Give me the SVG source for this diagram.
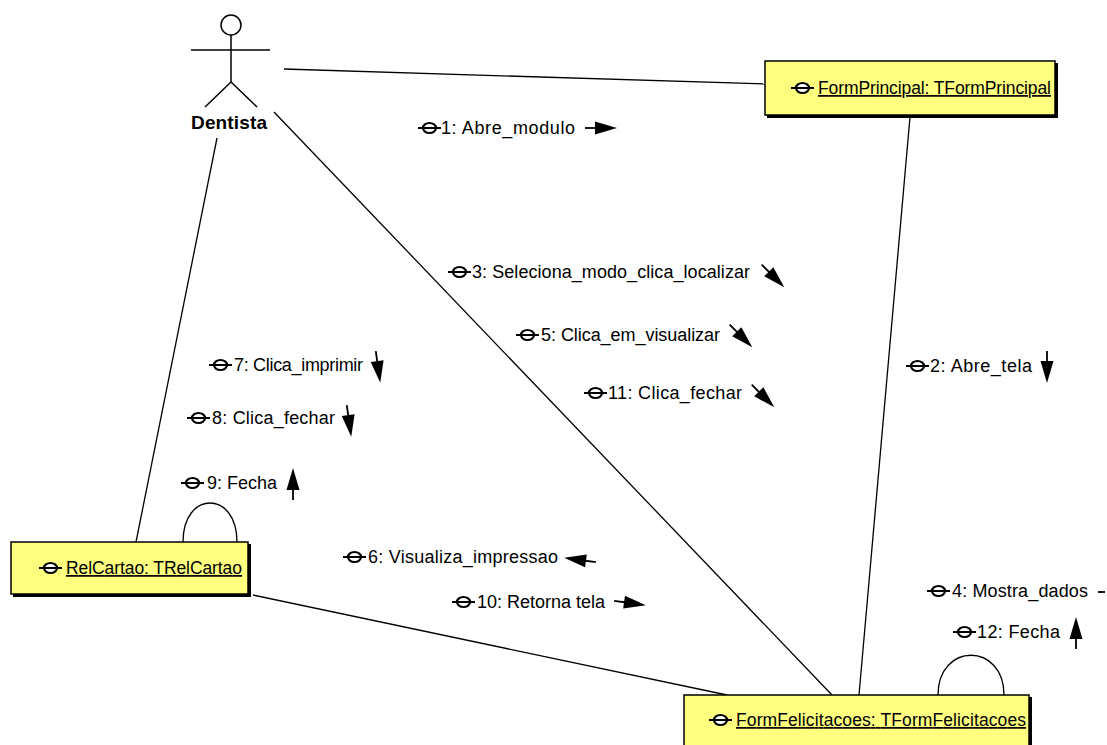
<svg xmlns="http://www.w3.org/2000/svg" xmlns:xlink="http://www.w3.org/1999/xlink" width="1107" height="745" viewBox="0 0 1107 745">
<style>
text{font-family:"Liberation Sans",Arial,sans-serif;font-size:18px;fill:#000}
.lbl{text-decoration:underline;font-size:17.5px}
.box{fill:#ffff80;stroke:#000;stroke-width:1.5}
.shadow{fill:#000}
.conn{stroke:#000;stroke-width:1.3;fill:none}
.actor{stroke:#000;stroke-width:1.5;fill:none}
</style>
<defs>
<g id="ico"><line x1="0" y1="0" x2="23" y2="0" stroke="#000" stroke-width="2"/><ellipse cx="11.5" cy="0" rx="6.5" ry="5" fill="#fff" stroke="#000" stroke-width="2.2"/><line x1="5" y1="0" x2="18" y2="0" stroke="#000" stroke-width="2"/></g>
<g id="arr"><line x1="-16" y1="0" x2="0" y2="0" stroke="#000" stroke-width="1.8"/><path d="M-6,-6.5 L16,0 L-6,6.5 Z" fill="#000"/></g>
</defs>
<rect width="1107" height="745" fill="#fff"/>
<g id="connectors">
<line class="conn" x1="284" y1="69" x2="765" y2="84"/>
<line class="conn" x1="274" y1="112" x2="832" y2="695"/>
<line class="conn" x1="217" y1="138" x2="136" y2="542"/>
<line class="conn" x1="910" y1="117" x2="859" y2="695"/>
<line class="conn" x1="253" y1="595" x2="727" y2="695"/>
<path class="conn" d="M183,542 C183,490 237,490 237,542"/>
<path class="conn" d="M938,695 C938,642 1004,642 1004,695"/>
</g>
<g id="actor-dentista">
<circle class="actor" cx="231" cy="25" r="10"/>
<line class="actor" x1="191" y1="50" x2="270" y2="50"/>
<line class="actor" x1="231" y1="35" x2="231" y2="82"/>
<line class="actor" x1="231" y1="82" x2="205" y2="107"/>
<line class="actor" x1="231" y1="82" x2="257" y2="107"/>
<text x="191" y="129" font-weight="bold" style="font-size:19px" textLength="76">Dentista</text>
</g>
<g id="node-formprincipal">
<rect class="shadow" x="767" y="63" width="291" height="55"/>
<rect class="box" x="765" y="61" width="290" height="54"/>
<use xlink:href="#ico" x="791" y="88"/>
<text class="lbl" x="818" y="94" textLength="233">FormPrincipal: TFormPrincipal</text>
</g>
<g id="node-relcartao">
<rect class="shadow" x="13" y="544" width="238" height="53"/>
<rect class="box" x="11" y="542" width="237" height="52"/>
<use xlink:href="#ico" x="39" y="568"/>
<text class="lbl" x="66" y="574" textLength="176">RelCartao: TRelCartao</text>
</g>
<g id="node-formfelicitacoes">
<rect class="shadow" x="686" y="697" width="346" height="60"/>
<rect class="box" x="684" y="695" width="345" height="60"/>
<use xlink:href="#ico" x="709" y="720"/>
<text class="lbl" x="736" y="726" textLength="290">FormFelicitacoes: TFormFelicitacoes</text>
</g>
<g id="messages">
<use xlink:href="#ico" x="418" y="128"/><text x="441" y="134" textLength="134">1: Abre_modulo</text>
<use xlink:href="#arr" transform="translate(601,128)"/>
<use xlink:href="#ico" x="906" y="366"/><text x="930" y="372" textLength="102">2: Abre_tela</text>
<use xlink:href="#arr" transform="translate(1047,367) rotate(90)"/>
<use xlink:href="#ico" x="448" y="272"/><text x="472" y="278" textLength="278">3: Seleciona_modo_clica_localizar</text>
<use xlink:href="#arr" transform="translate(773,276) rotate(45)"/>
<use xlink:href="#ico" x="516" y="335"/><text x="541" y="341" textLength="179">5: Clica_em_visualizar</text>
<use xlink:href="#arr" transform="translate(741,336) rotate(45)"/>
<use xlink:href="#ico" x="584" y="393"/><text x="608" y="399" textLength="134">11: Clica_fechar</text>
<use xlink:href="#arr" transform="translate(763,396) rotate(45)"/>
<use xlink:href="#ico" x="209" y="365"/><text x="234" y="371" textLength="129">7: Clica_imprimir</text>
<use xlink:href="#arr" transform="translate(378,367) rotate(82)"/>
<use xlink:href="#ico" x="187" y="418"/><text x="212" y="424" textLength="123">8: Clica_fechar</text>
<use xlink:href="#arr" transform="translate(349,421) rotate(82)"/>
<use xlink:href="#ico" x="181" y="483"/><text x="207" y="489" textLength="70">9: Fecha</text>
<use xlink:href="#arr" transform="translate(293,484) rotate(-90)"/>
<use xlink:href="#ico" x="343" y="557"/><text x="368" y="563" textLength="190">6: Visualiza_impressao</text>
<use xlink:href="#arr" transform="translate(580,560) rotate(188)"/>
<use xlink:href="#ico" x="452" y="602"/><text x="477" y="608" textLength="128">10: Retorna tela</text>
<use xlink:href="#arr" transform="translate(630,603) rotate(8)"/>
<use xlink:href="#ico" x="927" y="591"/><text x="952" y="597" textLength="136">4: Mostra_dados</text>
<line x1="1098" y1="592" x2="1105" y2="592" stroke="#000" stroke-width="1.8"/>
<use xlink:href="#ico" x="953" y="632"/><text x="977" y="638" textLength="83">12: Fecha</text>
<use xlink:href="#arr" transform="translate(1076,633) rotate(-90)"/>
</g>
</svg>
